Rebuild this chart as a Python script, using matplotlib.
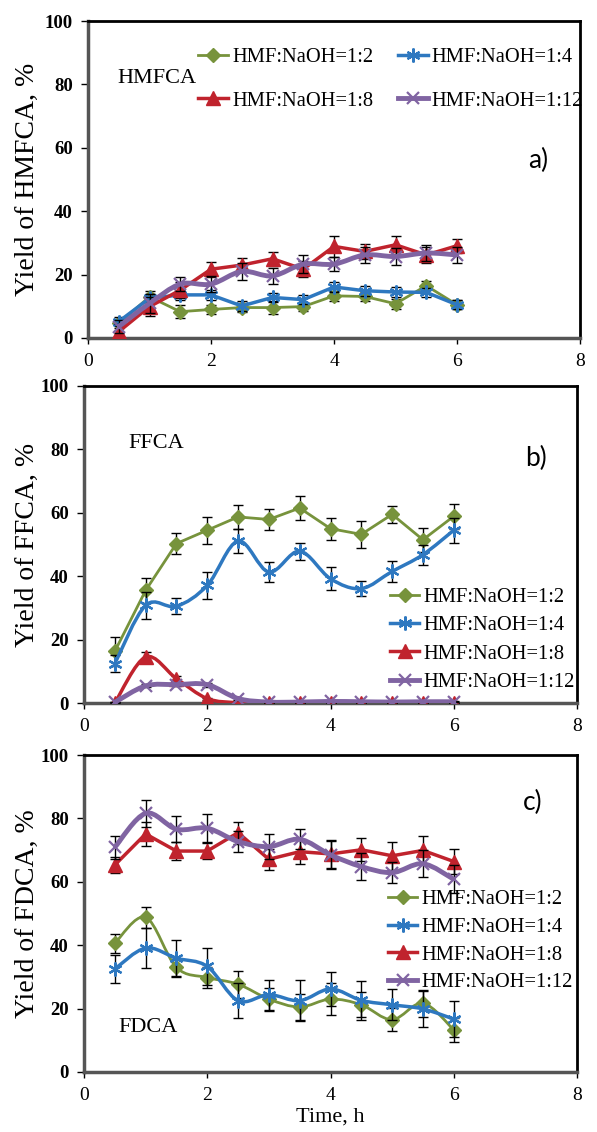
import numpy as np
import matplotlib
matplotlib.use("Agg")
import matplotlib.pyplot as plt
from matplotlib.path import Path
from matplotlib.patches import PathPatch
from matplotlib.lines import Line2D

plt.rcParams['font.family'] = ['Liberation Serif', 'DejaVu Serif']

# --- data ---
time_h = [0.5, 1.0, 1.5, 2.0, 2.5, 3.0, 3.5, 4.0, 4.5, 5.0, 5.5, 6.0]
series_names = ["HMF:NaOH=1:2", "HMF:NaOH=1:4", "HMF:NaOH=1:8", "HMF:NaOH=1:12"]

# a) HMFCA
hmfca_12 = [4.6, 13.0, 8.3, 9.0, 9.6, 9.6, 9.9, 13.3, 13.1, 10.8, 16.5, 10.5]
hmfca_14 = [5.2, 12.5, 13.6, 13.6, 10.1, 12.8, 12.1, 16.1, 14.9, 14.5, 14.4, 10.5]
hmfca_18 = [2.0, 9.9, 15.1, 21.7, 23.0, 25.0, 21.7, 28.9, 27.3, 29.4, 26.2, 29.1]
hmfca_112 = [3.6, 10.9, 17.0, 17.0, 21.0, 19.6, 23.3, 23.3, 26.2, 25.7, 26.8, 26.2]
hmfca_err_12 = [1.5, 1.8, 2.0, 1.5, 1.5, 2.0, 1.5, 1.5, 1.5, 1.5, 1.5, 1.5]
hmfca_err_14 = [1.5, 1.5, 1.5, 1.5, 1.5, 1.5, 1.5, 1.5, 1.5, 1.5, 1.5, 1.5]
hmfca_err_18 = [2.5, 3.0, 2.5, 2.4, 2.2, 2.2, 2.5, 3.4, 2.5, 2.8, 2.5, 2.2]
hmfca_err_112 = [2.0, 3.0, 2.3, 2.5, 2.6, 2.6, 2.8, 2.1, 2.5, 2.7, 2.5, 2.6]

# b) FFCA
ffca_12 = [16.3, 35.5, 50.3, 54.5, 58.7, 57.9, 61.5, 55.0, 53.2, 59.5, 51.5, 58.9]
ffca_14 = [12.4, 30.8, 30.5, 37.1, 51.1, 41.3, 47.9, 39.2, 36.1, 41.5, 46.8, 54.5]
ffca_18 = [0.0, 14.5, 7.7, 1.4, 0.1, 0.0, 0.0, 0.0, 0.0, 0.0, 0.0, 0.0]
ffca_112 = [0.2, 5.4, 5.8, 5.8, 1.4, 0.3, 0.3, 0.5, 0.4, 0.3, 0.4, 0.4]
ffca_err_12 = [4.5, 4.0, 3.2, 4.2, 3.7, 3.2, 3.7, 3.5, 4.2, 2.8, 3.8, 4.0]
ffca_err_14 = [2.6, 4.2, 2.5, 4.3, 3.8, 3.2, 2.7, 3.7, 2.4, 3.4, 3.2, 4.0]
ffca_err_18 = [0.3, 1.6, 0.8, 0.3, 0.1, 0.1, 0.1, 0.1, 0.1, 0.1, 0.1, 0.1]
ffca_err_112 = [0.2, 0.5, 0.5, 0.6, 0.3, 0.1, 0.1, 0.1, 0.1, 0.1, 0.1, 0.1]

# c) FDCA
fdca_12 = [40.6, 48.8, 33.0, 29.8, 27.7, 23.0, 20.5, 23.0, 21.2, 16.5, 21.7, 13.3]
fdca_14 = [32.5, 39.1, 35.9, 33.3, 22.5, 24.4, 22.5, 26.2, 22.6, 21.2, 19.9, 16.7]
fdca_18 = [65.3, 75.1, 69.7, 69.7, 75.5, 67.1, 69.5, 68.8, 70.1, 68.2, 69.9, 66.4]
fdca_112 = [70.9, 81.6, 76.6, 76.9, 72.7, 71.1, 73.4, 68.5, 64.8, 62.9, 65.7, 60.8]
fdca_err_12 = [3.0, 3.4, 2.6, 3.4, 4.3, 3.6, 4.0, 5.0, 3.9, 3.7, 4.2, 3.7]
fdca_err_14 = [4.4, 6.3, 5.8, 5.8, 5.5, 4.7, 6.4, 5.3, 6.2, 4.9, 5.7, 5.6]
fdca_err_18 = [2.6, 3.8, 2.8, 2.5, 3.5, 3.4, 3.9, 4.4, 3.6, 4.5, 4.4, 3.9]
fdca_err_112 = [3.7, 4.2, 4.2, 4.5, 3.2, 4.0, 3.2, 4.5, 4.2, 3.4, 4.2, 4.4]

# --- styles ---
colors = ['#77933C', '#2E78C0', '#C0232D', '#8064A2']
markers = ['D', (6, 2, 0), '^', 'x']
msizes = [7, 10, 10, 8]
lwidths = [2.0, 2.5, 2.5, 3.5]


def smooth_path(x, y):
    # Excel-style smoothed line: cubic bezier segments through the data points
    x = np.asarray(x, float)
    y = np.asarray(y, float)
    n = len(x)
    verts = [(x[0], y[0])]
    codes = [Path.MOVETO]
    for i in range(n - 1):
        i0 = max(i - 1, 0)
        i3 = min(i + 2, n - 1)
        c1 = (x[i] + (x[i + 1] - x[i0]) / 6, y[i] + (y[i + 1] - y[i0]) / 6)
        c2 = (x[i + 1] - (x[i3] - x[i]) / 6, y[i + 1] - (y[i3] - y[i]) / 6)
        verts += [c1, c2, (x[i + 1], y[i + 1])]
        codes += [Path.CURVE4] * 3
    return Path(verts, codes)


def draw_panel(ax, ys, errs, smooth, ylabel, name, name_xy, tag, tag_xy, lab_x):
    for k in range(4):
        ax.errorbar(time_h, ys[k], yerr=errs[k], fmt='none', ecolor='black',
                    elinewidth=1.0, capsize=3.5, capthick=1.0, zorder=2 + k)
        if smooth[k]:
            ax.add_patch(PathPatch(smooth_path(time_h, ys[k]), facecolor='none',
                                   edgecolor=colors[k], lw=lwidths[k], zorder=3 + k))
            ls = 'none'
        else:
            ls = '-'
        mew = 1.6 if k in (1, 3) else 1.0
        ax.plot(time_h, ys[k], linestyle=ls, color=colors[k], lw=lwidths[k],
                marker=markers[k], ms=msizes[k], mew=mew, zorder=3 + k)

    ax.set_xlim(0, 8)
    ax.set_ylim(0, 100)
    ax.set_xticks([0, 2, 4, 6, 8])
    ax.set_yticks([0, 20, 40, 60, 80, 100])
    ax.tick_params(axis='y', labelsize=13.5, length=5, width=1, direction='out', pad=6)
    ax.tick_params(axis='x', labelsize=14, length=4, width=1, direction='out', pad=7)
    for lab in ax.get_yticklabels():
        lab.set_fontweight('bold')
    for s in ['top', 'right']:
        ax.spines[s].set_color('black')
        ax.spines[s].set_linewidth(2.0)
    for s in ['left', 'bottom']:
        ax.spines[s].set_color('#555555')
        ax.spines[s].set_linewidth(2.5)
    ax.set_ylabel(ylabel, fontsize=20)
    ax.yaxis.set_label_coords(lab_x, 0.5)
    ax.text(name_xy[0], name_xy[1], name, transform=ax.transAxes, fontsize=16,
            ha='left', va='center')
    ax.text(tag_xy[0], tag_xy[1], tag, transform=ax.transAxes, fontsize=19,
            family='Lato', ha='left', va='center')


handles = [Line2D([], [], color=colors[k], lw=lwidths[k], marker=markers[k],
                  ms=msizes[k], mew=1.6 if k in (1, 3) else 1.0) for k in range(4)]
leg_kw = dict(frameon=False, fontsize=14.8, handlelength=1.45, handletextpad=0.2,
              borderpad=0, borderaxespad=0)

fig = plt.figure(figsize=(5.97, 11.32), dpi=100)

ax_a = fig.add_axes([88 / 597, 1 - 338 / 1132, 492 / 597, 317 / 1132])
draw_panel(ax_a, [hmfca_12, hmfca_14, hmfca_18, hmfca_112],
           [hmfca_err_12, hmfca_err_14, hmfca_err_18, hmfca_err_112],
           [False, False, False, True], "Yield of HMFCA, %", "HMFCA", (0.06, 0.82),
           "a)", (0.895, 0.56), -0.098)
order = [0, 2, 1, 3]
ax_a.legend([handles[i] for i in order], [series_names[i] for i in order], ncol=2,
            loc='upper left', bbox_to_anchor=(0.224, 0.915), columnspacing=1.2,
            labelspacing=1.16, **leg_kw)

ax_b = fig.add_axes([84 / 597, 1 - 703 / 1132, 493 / 597, 317 / 1132])
draw_panel(ax_b, [ffca_12, ffca_14, ffca_18, ffca_112],
           [ffca_err_12, ffca_err_14, ffca_err_18, ffca_err_112],
           [False, True, True, True], "Yield of FFCA, %", "FFCA", (0.09, 0.82),
           "b)", (0.895, 0.77), -0.089)
ax_b.legend(handles, series_names, loc='lower left', bbox_to_anchor=(0.62, 0.035),
            labelspacing=0.43, **leg_kw)

ax_c = fig.add_axes([84 / 597, 1 - 1072 / 1132, 493 / 597, 317 / 1132])
draw_panel(ax_c, [fdca_12, fdca_14, fdca_18, fdca_112],
           [fdca_err_12, fdca_err_14, fdca_err_18, fdca_err_112],
           [True, True, False, True], "Yield of FDCA, %", "FDCA", (0.07, 0.14),
           "c)", (0.89, 0.85), -0.089)
ax_c.legend(handles, series_names, loc='lower left', bbox_to_anchor=(0.616, 0.252),
            labelspacing=0.4, **leg_kw)
ax_c.set_xlabel("Time, h", fontsize=16, labelpad=2)

fig.savefig("out.png", dpi=100)
